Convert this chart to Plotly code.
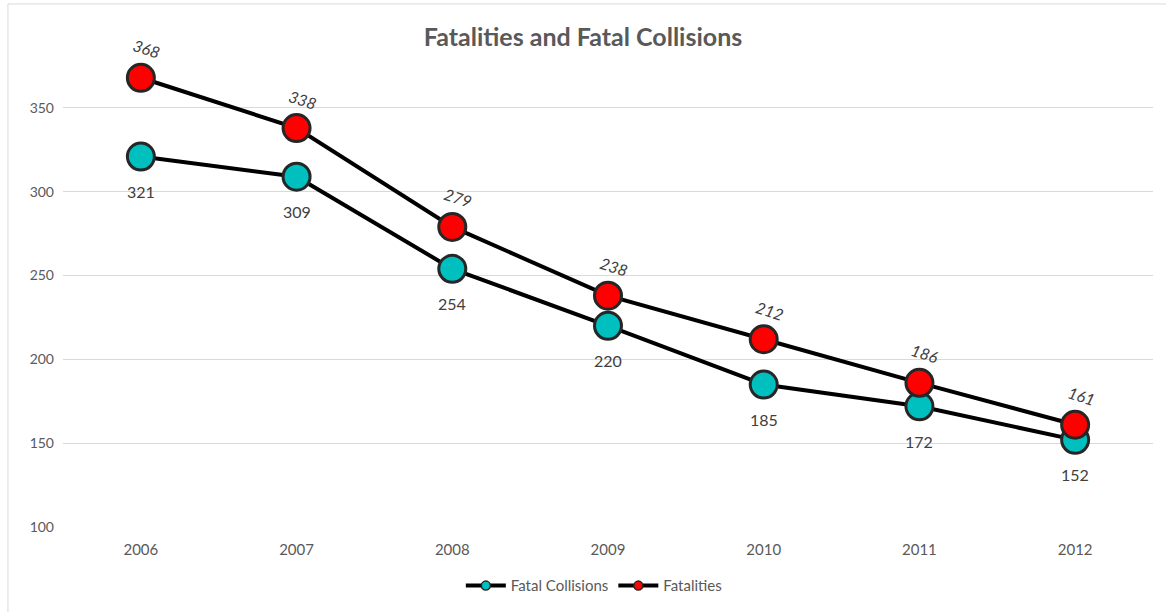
import plotly.graph_objects as go

# data
years = [2006, 2007, 2008, 2009, 2010, 2011, 2012]
fatal_collisions = [321, 309, 254, 220, 185, 172, 152]
fatalities = [368, 338, 279, 238, 212, 186, 161]

grey = '#595959'
font_family = 'Lato, Open Sans, sans-serif'
series = [('Fatal Collisions', fatal_collisions, '#00BFBF'),
          ('Fatalities', fatalities, '#FF0000')]

fig = go.Figure()

for name, vals, col in series:
    fig.add_trace(go.Scatter(
        x=years, y=vals, name=name, mode='lines+markers', showlegend=False,
        line=dict(color='black', width=4),
        marker=dict(symbol='circle', size=27, color=col,
                    line=dict(color='#262626', width=3)),
    ))
# legend entries with the small Excel-like marker
for name, vals, col in series:
    fig.add_trace(go.Scatter(
        x=[None], y=[None], name=name, mode='lines+markers',
        line=dict(color='black', width=4),
        marker=dict(symbol='circle', size=9, color=col,
                    line=dict(color='#262626', width=1.5)),
    ))

# value labels: collisions below the points, fatalities above (tilted, italic)
for yr, v in zip(years, fatal_collisions):
    fig.add_annotation(x=yr, y=v, text=str(v), showarrow=False,
                       yshift=-35, font=dict(size=16, color='#404040', family=font_family))
for yr, v in zip(years, fatalities):
    fig.add_annotation(x=yr, y=v, text='<i>%d</i>' % v, showarrow=False,
                       yshift=29, xshift=6, textangle=18,
                       font=dict(size=16, color='#404040', family=font_family))

# thin chart border (only top/left visible in the reference)
fig.add_shape(type='rect', xref='paper', yref='paper',
              x0=-0.0505, x1=1.05, y0=-0.3, y1=1.12,
              line=dict(color='#D9D9D9', width=1), layer='below')

fig.update_layout(
    width=1166, height=612,
    margin=dict(l=63, r=13, t=60, b=85, autoexpand=False),
    paper_bgcolor='white', plot_bgcolor='white',
    title=dict(text='<b>Fatalities and Fatal Collisions</b>', x=0.5, xanchor='center',
               y=1 - 37 / 612, yanchor='middle',
               font=dict(size=25, color=grey, family=font_family)),
    font=dict(family=font_family, color=grey, size=14),
    showlegend=True,
    legend=dict(orientation='h', x=0.487, xanchor='center', y=-0.126, yanchor='middle',
                font=dict(size=15, color=grey), itemwidth=40),
    xaxis=dict(range=[2005.5, 2012.5], tickvals=years, showgrid=False,
               showline=False, ticks='', zeroline=False, automargin=False,
               tickfont=dict(size=15, color=grey), ticklabelstandoff=12),
    yaxis=dict(range=[100, 378.6], tickvals=[100, 150, 200, 250, 300, 350],
               showgrid=True, gridcolor='#D9D9D9', gridwidth=1,
               zeroline=False, showline=False, ticks='', automargin=False,
               tickfont=dict(size=14, color=grey), ticklabelstandoff=8),
)

fig.write_html('out.html', config={'displayModeBar': False},
               post_script="document.body.style.margin='0';")
